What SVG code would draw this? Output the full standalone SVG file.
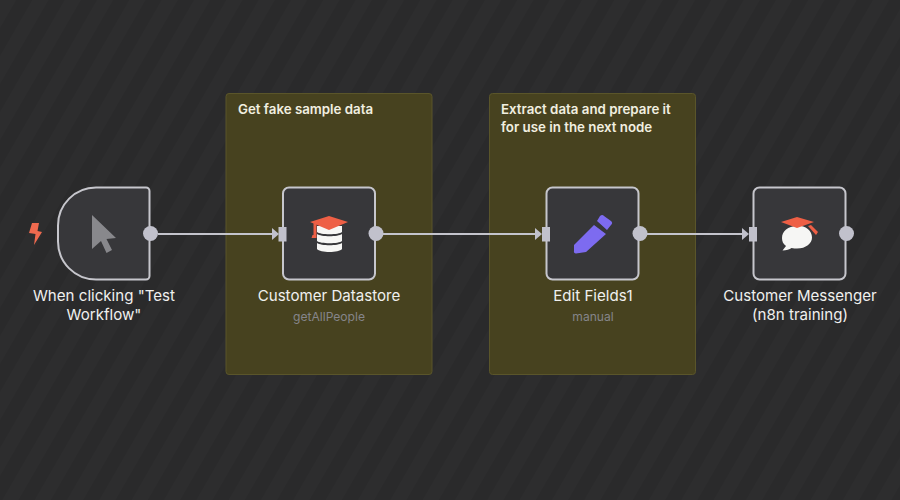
<svg xmlns="http://www.w3.org/2000/svg" width="900" height="500" viewBox="0 0 900 500">
<style>
text{font-family:Inter,"Liberation Sans",sans-serif}
.note{fill:#47421f;stroke:#5a552a;stroke-width:1}
.nt{fill:#f1efe0;font-size:13.300px;font-weight:600}
.box{fill:#37373a;stroke:#c6c6cc;stroke-width:2}
.lab{fill:#f0f0ee;font-size:15.100px;text-anchor:middle}
.sub{fill:#85858a;font-size:12.100px;text-anchor:middle}
.conn{fill:none;stroke:#c4c4cc;stroke-width:2}
.port{fill:#c1c1cc}
</style>
<defs>
<pattern id="st" width="28" height="28" patternUnits="userSpaceOnUse" patternTransform="rotate(30)">
<rect width="28" height="28" fill="#2a2a2b"/>
<rect width="14" height="28" fill="#2d2d2e"/>
</pattern>
</defs>
<rect width="900" height="500" fill="url(#st)"/>
<g id="note1"><rect class="note" x="226" y="93.500" width="206" height="281" rx="3"/><text class="nt" x="238" y="114">Get fake sample data</text></g>
<g id="note2"><rect class="note" x="489.500" y="93.500" width="206" height="281" rx="3"/><text class="nt" x="501" y="114">Extract data and prepare it</text><text class="nt" x="501" y="132">for use in the next node</text></g>
<g id="connectors">
<path class="conn" d="M158 234H272"/><path class="port" d="M272 228l7 6-7 6z"/>
<path class="conn" d="M383 234H536"/><path class="port" d="M535 228l7 6-7 6z"/>
<path class="conn" d="M647 234H743"/><path class="port" d="M742 228l7 6-7 6z"/>
</g>
<g id="trigger">
<path d="M32 223h7l-1.500 8 4.500 1-8 13 1.500-11-6.500-1z" fill="#ef6a4f"/>
<path class="box" d="M96 187.500H146a3.500 3.500 0 0 1 3.500 3.500V276a3.500 3.500 0 0 1-3.500 3.500H96a38 38 0 0 1-38-38V225.500a38 38 0 0 1 38-38z"/>
<path d="M92 215l24 23-9.500 1 5.500 11-5.500 3-5.500-12-9 8z" fill="#88888c"/>
<circle class="port" cx="150.500" cy="233.500" r="7.500"/>
<text class="lab"><tspan x="104" y="301">When clicking "Test</tspan><tspan x="104" y="320">Workflow"</tspan></text>
</g>
<g id="datastore">
<rect class="box" x="283" y="187.500" width="92" height="92" rx="6"/>
<rect class="port" x="278.500" y="227" width="8" height="14.500"/>
<path d="M317 226h25v6c-3 3-22 3-25 0z" fill="#f6f6f4"/>
<path d="M317 234c4 3 21 3 25 0v7c-3 3-22 3-25 0z" fill="#f6f6f4"/>
<path d="M317 243c4 3 21 3 25 0v6c-3 4-22 4-25 0z" fill="#f6f6f4"/>
<path d="M310 222l19-6 19 6-19 8z" fill="#ee5f45"/>
<path d="M313.500 223l3 1v14h-5l1-3h1z" fill="#ee5f45"/>
<circle class="port" cx="376" cy="233.500" r="7.500"/>
<text class="lab" x="329" y="301">Customer Datastore</text>
<text class="sub" x="329" y="321">getAllPeople</text>
</g>
<g id="editfields">
<rect class="box" x="546.500" y="187.500" width="92" height="92" rx="6"/>
<rect class="port" x="542" y="227" width="8" height="14.500"/>
<path d="M574 245l20-20 12 9-20 18-10 1.500c-1.500 0-2.500-1-2-2.500z" fill="#7d6bf0"/>
<path d="M597 221l3-5c1.500-1.500 3-1.500 4 0l7 5c1.500 1 1.500 3 0 4l-4 5z" fill="#7d6bf0"/>
<circle class="port" cx="640" cy="233.500" r="7.500"/>
<text class="lab" x="593" y="301">Edit Fields1</text>
<text class="sub" x="593" y="321">manual</text>
</g>
<g id="messenger">
<rect class="box" x="753.500" y="187.500" width="92" height="92" rx="6"/>
<rect class="port" x="749" y="227" width="8" height="14.500"/>
<path d="M797 226c-9 0-15 5-15 12 0 3 1 6 4 8l-3.500 4.500c4 0 7-1 9-2.500 2 .5 4 .5 5.500.5 9 0 15-5 15-11 0-7-6-12-15-12z" fill="#f6f6f4"/>
<path d="M781 222l16-5 17 5-17 6z" fill="#ee5f45"/>
<path d="M808 226l3-1 7 7-2 3z" fill="#ee5f45"/>
<circle class="port" cx="846.500" cy="233.500" r="7.500"/>
<text class="lab"><tspan x="800" y="301">Customer Messenger</tspan><tspan x="800" y="320">(n8n training)</tspan></text>
</g>
</svg>
